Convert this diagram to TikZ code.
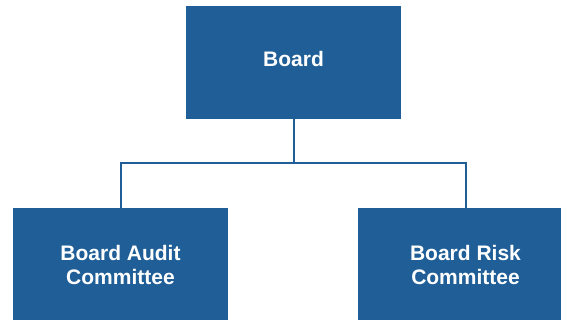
\documentclass[tikz,border=0pt]{standalone}
\usepackage{fontspec}
\setmainfont{Liberation Sans}
\usepackage{tikz}
\usetikzlibrary{calc}
\definecolor{boardblue}{RGB}{31,94,150}

\begin{document}
\begin{tikzpicture}[x=1pt,y=-1pt,
  orgbox/.style={fill=boardblue,text=white,minimum width=215pt,minimum height=113pt,
    align=center,font=\fontsize{21}{24}\selectfont\bfseries,inner sep=0pt},
  orgline/.style={draw=boardblue,line width=2pt}]
\useasboundingbox (0,0) rectangle (561,320);
\node[orgbox,text depth=7.5pt] (board) at (293.5,62.5) {Board};
\node[orgbox] (audit) at (120.5,264.5) {Board Audit\\Committee};
\node[orgbox] (risk) at (465.5,264.5) {Board Risk\\Committee};
\coordinate (split) at (board.south |- 0,163);
\draw[orgline] (board.south) -- (split);
\draw[orgline] (audit.north) |- (split) -| (risk.north);
\end{tikzpicture}
\end{document}
